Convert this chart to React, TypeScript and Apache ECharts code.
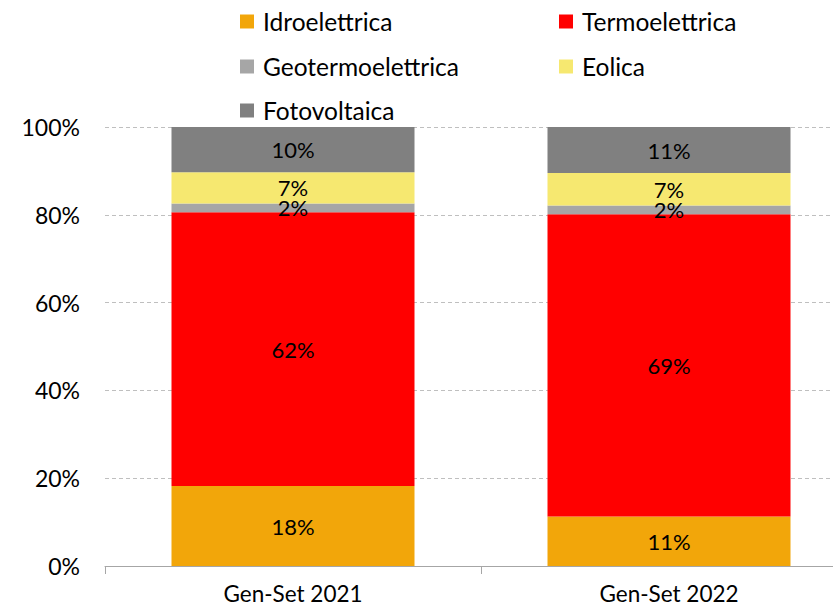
import React, { useEffect, useRef } from "react";
import * as echarts from "echarts";

const categories = ["Gen-Set 2021", "Gen-Set 2022"];
const seriesNames = ["Idroelettrica", "Termoelettrica", "Geotermoelettrica", "Eolica", "Fotovoltaica"];
const idroelettrica = [18.2, 11.3];
const termoelettrica = [62.4, 68.8];
const geotermoelettrica = [2.0, 2.0];
const eolica = [7.1, 7.4];
const fotovoltaica = [10.3, 10.5];
const yTicks = [0, 20, 40, 60, 80, 100];

const colors = ["#F2A60A", "#FF0000", "#A6A6A6", "#F6E870", "#808080"];
const FONT = "Lato";

export default function App() {
  const ref = useRef<HTMLDivElement>(null);
  useEffect(() => {
    if (!ref.current) return;
    const chart = echarts.init(ref.current, null, { renderer: "svg" });
    const values = [idroelettrica, termoelettrica, geotermoelettrica, eolica, fotovoltaica];
    const legendPos = [
      { left: 240, top: 9 },
      { left: 559, top: 9 },
      { left: 240, top: 54 },
      { left: 559, top: 54 },
      { left: 240, top: 98 },
    ];
    chart.setOption({
      animation: false,
      textStyle: { fontFamily: FONT },
      legend: seriesNames.map((n, i) => ({
        data: [n],
        left: legendPos[i].left,
        top: legendPos[i].top,
        icon: "rect",
        itemWidth: 14,
        itemHeight: 14,
        padding: 0,
        textStyle: { fontSize: 24.5, color: "#000", fontFamily: FONT, padding: [0, 0, 0, 4] },
      })),
      grid: {
        left: 105,
        width: 752,
        top: 127,
        bottom: 41,
        containLabel: false,
        outerBoundsMode: "none",
      },
      xAxis: {
        type: "category",
        data: categories,
        axisLine: { lineStyle: { color: "#A6A6A6", width: 1 } },
        axisTick: { show: true, length: 8, lineStyle: { color: "#A6A6A6" } },
        axisLabel: { fontSize: 22.5, color: "#000", margin: 16, fontFamily: FONT },
      },
      yAxis: {
        type: "value",
        min: 0,
        max: 100,
        interval: 20,
        axisLine: { show: false },
        axisTick: { show: false },
        splitLine: { lineStyle: { color: "#BFBFBF", type: [4, 3], width: 1 } },
        axisLabel: {
          fontSize: 23,
          color: "#000",
          margin: 25,
          fontFamily: FONT,
          formatter: (v: number) => (yTicks.includes(v) ? v + "%" : ""),
        },
      },
      series: seriesNames.map((n, i) => ({
        name: n,
        type: "bar",
        stack: "total",
        data: values[i],
        barWidth: 243,
        itemStyle: { color: colors[i] },
        label: {
          show: true,
          position: "inside",
          color: "#000",
          fontSize: 22,
          fontFamily: FONT,
          formatter: (p: any) => Math.round(p.value) + "%",
        },
      })),
    });
    return () => chart.dispose();
  }, []);
  return <div ref={ref} style={{ width: 833, height: 607, position: "absolute", left: 0, top: 0 }} />;
}
